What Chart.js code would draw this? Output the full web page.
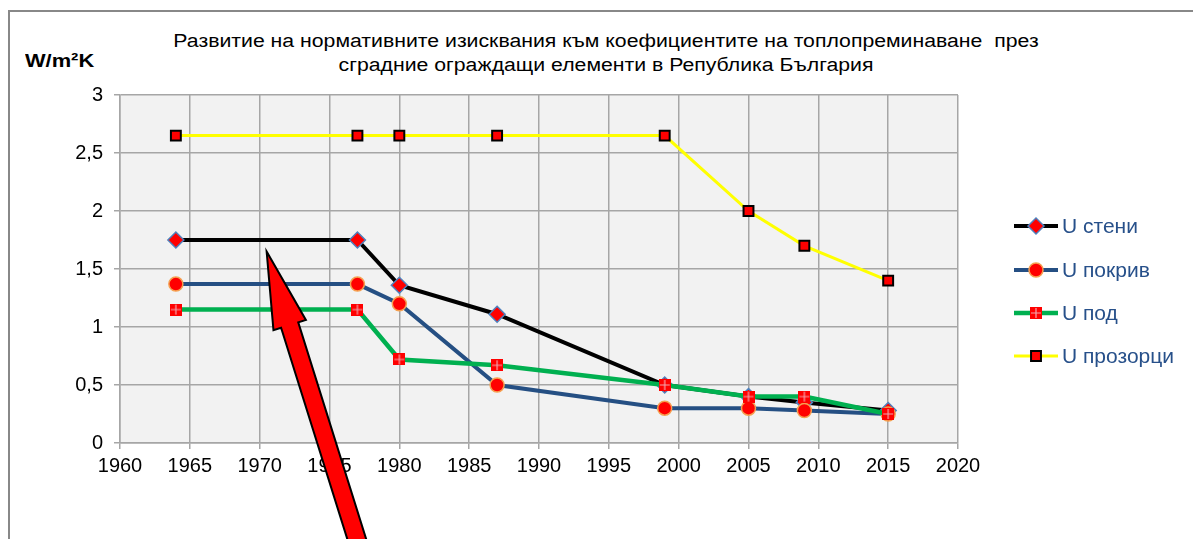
<!DOCTYPE html>
<html>
<head>
<meta charset="utf-8">
<script src="https://cdn.jsdelivr.net/npm/chart.js@4/dist/chart.umd.min.js"></script>
<style>
  html, body { margin: 0; padding: 0; background: #fff; }
  #wrap { position: relative; width: 1193px; height: 539px; overflow: hidden; font-family: Arial, "Liberation Sans", sans-serif; }
  #frame { position: absolute; left: 8px; top: 10px; width: 1300px; height: 700px; border-left: 2px solid #888; border-top: 2px solid #888; }
  #title { position: absolute; left: 106px; width: 1000px; top: 29px; text-align: center; font-size: 18px; line-height: 24px; white-space: pre; color: #000; transform: scaleX(1.18); transform-origin: 500px 0; }
  #unit { position: absolute; left: 25px; top: 50px; font-size: 19px; font-weight: bold; color: #000; transform: scaleX(1.15); transform-origin: 0 0; }
  canvas { position: absolute; left: 0; top: 0; }
</style>
</head>
<body>
<div id="wrap">
  <div id="frame"></div>
  <div id="title">Развитие на нормативните изисквания към коефициентите на топлопреминаване  през
сградние ограждащи елементи в Република България</div>
  <div id="unit">W/m²K</div>
  <canvas id="chart" width="1193" height="539"></canvas>
</div>
<script>
// data
const years = [1964, 1977, 1980, 1987, 1999, 2005, 2009, 2015];
const uWalls = [1.75, 1.75, 1.36, 1.11, 0.5, 0.4, 0.35, 0.28];
const uRoof = [1.37, 1.37, 1.2, 0.5, 0.3, 0.3, 0.28, 0.25];
const uFloor = [1.15, 1.15, 0.72, 0.67, 0.5, 0.4, 0.4, 0.25];
const uWindows = [2.65, 2.65, 2.65, 2.65, 2.65, 2.0, 1.7, 1.4];
const seriesLabels = ['U стени', 'U покрив', 'U под', 'U прозорци'];

const toPoints = vals => years.map((x, i) => ({ x, y: vals[i] }));

// red square with a light cross (the floor marker)
function floorMarker() {
  const c = document.createElement('canvas');
  c.width = 12; c.height = 12;
  const g = c.getContext('2d');
  g.fillStyle = '#ff0000';
  g.fillRect(0, 0, 12, 12);
  g.strokeStyle = '#f2a6ae';
  g.lineWidth = 1.2;
  g.beginPath();
  g.moveTo(6, 1); g.lineTo(6, 11);
  g.moveTo(1, 6); g.lineTo(11, 6);
  g.stroke();
  return c;
}

const datasets = [
  {
    label: seriesLabels[0], data: toPoints(uWalls), order: 4,
    borderColor: '#000000', borderWidth: 4,
    pointStyle: 'rectRot', pointRadius: 8, pointBackgroundColor: '#ff0000',
    pointBorderColor: '#4f81bd', pointBorderWidth: 1.5
  },
  {
    label: seriesLabels[1], data: toPoints(uRoof), order: 3,
    borderColor: '#254f83', borderWidth: 4,
    pointStyle: 'circle', pointRadius: 7, pointBackgroundColor: '#ff0000',
    pointBorderColor: '#f5a050', pointBorderWidth: 1.5
  },
  {
    label: seriesLabels[2], data: toPoints(uFloor), order: 2,
    borderColor: '#00b050', borderWidth: 4.5,
    pointStyle: floorMarker(), pointRadius: 6, pointBackgroundColor: '#ff0000',
    pointBorderColor: '#ff0000', pointBorderWidth: 0
  },
  {
    label: seriesLabels[3], data: toPoints(uWindows), order: 1,
    borderColor: '#ffff00', borderWidth: 3,
    pointStyle: 'rect', pointRadius: 7, pointBackgroundColor: '#ff0000',
    pointBorderColor: '#000000', pointBorderWidth: 2
  }
];

const plotBg = {
  id: 'plotBg',
  beforeDraw(chart) {
    const { ctx, chartArea: a } = chart;
    ctx.save();
    ctx.fillStyle = '#f2f2f2';
    ctx.fillRect(a.left, a.top, a.right - a.left, a.bottom - a.top);
    ctx.restore();
  }
};

// the big red arrow pointing at the 1964-1977 wall value
const arrow = {
  id: 'arrow',
  afterDatasetsDraw(chart) {
    const { ctx, scales } = chart;
    const tx = scales.x.getPixelForValue(1970.5);
    const ty = scales.y.getPixelForValue(1.65);
    const ux = 0.299, uy = 0.954;     // direction tip -> tail
    const nx = 0.954, ny = -0.299;    // normal
    const headLen = 77, headW = 17, shaftW = 9, len = 360;
    const bx = tx + ux * headLen, by = ty + uy * headLen;
    const ex = tx + ux * len, ey = ty + uy * len;
    ctx.save();
    ctx.beginPath();
    ctx.moveTo(tx, ty);
    ctx.lineTo(bx + nx * headW, by + ny * headW);
    ctx.lineTo(bx + nx * shaftW, by + ny * shaftW);
    ctx.lineTo(ex + nx * shaftW, ey + ny * shaftW);
    ctx.lineTo(ex - nx * shaftW, ey - ny * shaftW);
    ctx.lineTo(bx - nx * shaftW, by - ny * shaftW);
    ctx.lineTo(bx - nx * headW, by - ny * headW);
    ctx.closePath();
    ctx.fillStyle = '#ff0000';
    ctx.fill();
    ctx.lineWidth = 2;
    ctx.lineJoin = 'miter';
    ctx.strokeStyle = '#000000';
    ctx.stroke();
    ctx.restore();
  }
};

// legend on the right: short line with the marker in the middle
const sideLegend = {
  id: 'sideLegend',
  afterDraw(chart) {
    const { ctx } = chart;
    const x0 = 1014, x1 = 1058, tx = 1062;
    const rows = [226, 270, 313, 356];
    ctx.save();
    chart.data.datasets.forEach((ds, i) => {
      const y = rows[i];
      ctx.strokeStyle = ds.borderColor;
      ctx.lineWidth = ds.borderWidth;
      ctx.beginPath();
      ctx.moveTo(x0, y); ctx.lineTo(x1, y);
      ctx.stroke();
      ctx.fillStyle = ds.pointBackgroundColor;
      ctx.strokeStyle = ds.pointBorderColor;
      ctx.lineWidth = ds.pointBorderWidth;
      Chart.helpers.drawPoint(ctx, {
        pointStyle: ds.pointStyle, rotation: 0,
        radius: ds.pointRadius, borderWidth: ds.pointBorderWidth
      }, (x0 + x1) / 2, y);
      ctx.fillStyle = '#27508a';
      ctx.font = '21px Arial, "Liberation Sans", sans-serif';
      ctx.textBaseline = 'middle';
      ctx.textAlign = 'left';
      ctx.fillText(ds.label, tx, y + 1);
    });
    ctx.restore();
  }
};

const tickFont = { family: 'Arial, "Liberation Sans", sans-serif', size: 20 };

new Chart(document.getElementById('chart'), {
  type: 'line',
  data: { datasets },
  options: {
    responsive: false,
    animation: false,
    layout: { padding: { left: 0, top: 95, right: 235, bottom: 56 } },
    plugins: { legend: { display: false }, title: { display: false }, tooltip: { enabled: false } },
    elements: { line: { tension: 0 } },
    scales: {
      x: {
        type: 'linear', min: 1960, max: 2020,
        ticks: { stepSize: 5, color: '#000', font: tickFont, padding: 5, maxRotation: 0, callback: v => String(v) },
        grid: { color: '#a6a6a6', lineWidth: 1.5, tickLength: 6 },
        border: { color: '#a6a6a6', width: 1.5 },
        afterFit(s) { s.height = 40; }
      },
      y: {
        min: 0, max: 3,
        ticks: { stepSize: 0.5, color: '#000', font: tickFont, padding: 11, callback: v => String(v).replace('.', ',') },
        grid: { color: '#a6a6a6', lineWidth: 1.5, tickLength: 6 },
        border: { color: '#a6a6a6', width: 1.5 },
        afterFit(s) { s.width = 120; }
      }
    }
  },
  plugins: [plotBg, arrow, sideLegend]
});
</script>
</body>
</html>
